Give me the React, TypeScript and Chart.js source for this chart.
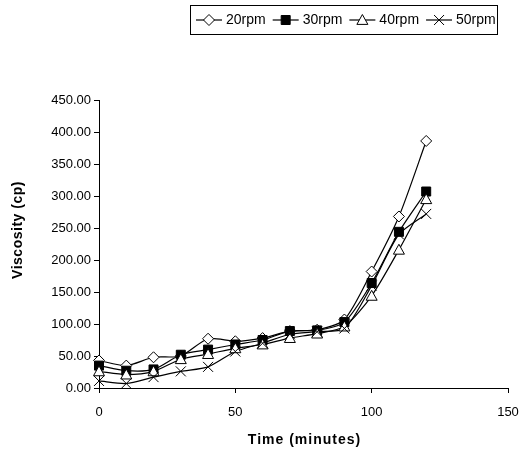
import React, { useEffect, useRef } from "react";
import { Chart, registerables } from "chart.js";
Chart.register(...registerables);

const times = [0, 10, 20, 30, 40, 50, 60, 70, 80, 90, 100, 110, 120];
const rpm20 = [43, 35, 48, 50, 77, 73, 78, 89, 91, 107, 182, 268, 386];
const rpm30 = [35, 27, 29, 52, 60, 68, 75, 89, 90, 103, 164, 244, 307];
const rpm40 = [26, 21, 26, 45, 53, 62, 68, 78, 85, 96, 144, 216, 295];
const rpm50 = [11, 7, 17, 26, 33, 57, 70, 84, 88, 93, 160, 240, 272];
const seriesLabels = ["20rpm", "30rpm", "40rpm", "50rpm"];
const xAxisTitle = "Time (minutes)";
const yAxisTitle = "Viscosity (cp)";

const FONT = "'Liberation Sans', Arial, sans-serif";

type Marker = "diamond" | "square" | "triangle" | "cross";
const markers: Marker[] = ["diamond", "square", "triangle", "cross"];

function drawMarker(ctx: CanvasRenderingContext2D, m: Marker, x: number, y: number) {
  ctx.save();
  ctx.lineWidth = 1;
  ctx.strokeStyle = "#000";
  ctx.beginPath();
  if (m === "diamond") {
    const r = 5.5;
    ctx.moveTo(x, y - r);
    ctx.lineTo(x + r, y);
    ctx.lineTo(x, y + r);
    ctx.lineTo(x - r, y);
    ctx.closePath();
    ctx.fillStyle = "#fff";
    ctx.fill();
    ctx.stroke();
  } else if (m === "square") {
    const r = 4.5;
    ctx.rect(x - r, y - r, 2 * r, 2 * r);
    ctx.fillStyle = "#000";
    ctx.fill();
    ctx.stroke();
  } else if (m === "triangle") {
    const r = 5.5;
    ctx.moveTo(x, y - r);
    ctx.lineTo(x + r, y + r * 0.8);
    ctx.lineTo(x - r, y + r * 0.8);
    ctx.closePath();
    ctx.fillStyle = "#fff";
    ctx.fill();
    ctx.stroke();
  } else {
    const r = 5;
    ctx.moveTo(x - r, y - r);
    ctx.lineTo(x + r, y + r);
    ctx.moveTo(x + r, y - r);
    ctx.lineTo(x - r, y + r);
    ctx.stroke();
  }
  ctx.restore();
}

const legendBox = { x: 190, y: 5, w: 307, h: 29 };

const customLegend = {
  id: "customLegend",
  afterDraw(chart: any) {
    const ctx: CanvasRenderingContext2D = chart.ctx;
    ctx.save();
    ctx.strokeStyle = "#000";
    ctx.lineWidth = 1;
    ctx.strokeRect(legendBox.x + 0.5, legendBox.y + 0.5, legendBox.w, legendBox.h);
    ctx.font = "14px " + FONT;
    ctx.textBaseline = "middle";
    ctx.fillStyle = "#000";
    let x = legendBox.x + 6;
    const cy = legendBox.y + legendBox.h / 2 + 0.5;
    chart.data.datasets.forEach((ds: any, i: number) => {
      ctx.beginPath();
      ctx.lineWidth = 1.2;
      ctx.moveTo(x, cy);
      ctx.lineTo(x + 26, cy);
      ctx.stroke();
      drawMarker(ctx, markers[i], x + 13, cy);
      x += 30;
      ctx.fillText(ds.label, x, cy);
      x += ctx.measureText(ds.label).width + 7;
    });
    ctx.restore();
  },
};

const axisTitles = {
  id: "axisTitles",
  afterDraw(chart: any) {
    const ctx: any = chart.ctx;
    const area = chart.chartArea;
    ctx.save();
    ctx.fillStyle = "#000";
    ctx.textAlign = "center";
    ctx.textBaseline = "middle";
    ctx.font = "bold 14px " + FONT;
    ctx.letterSpacing = "1px";
    ctx.fillText(xAxisTitle, (area.left + area.right) / 2 + 1, 440);
    ctx.letterSpacing = "0.5px";
    ctx.translate(18, 230);
    ctx.rotate(-Math.PI / 2);
    ctx.fillText(yAxisTitle, 0, 0);
    ctx.restore();
  },
};

const markerPlugin = {
  id: "markerPlugin",
  afterDatasetsDraw(chart: any) {
    const ctx: CanvasRenderingContext2D = chart.ctx;
    chart.data.datasets.forEach((ds: any, i: number) => {
      const meta = chart.getDatasetMeta(i);
      meta.data.forEach((pt: any) => drawMarker(ctx, markers[i], pt.x, pt.y));
    });
  },
};

export default function App() {
  const ref = useRef<HTMLCanvasElement>(null);
  useEffect(() => {
    const series = [rpm20, rpm30, rpm40, rpm50];
    const chart = new Chart(ref.current!, {
      type: "line",
      data: {
        datasets: series.map((s, i) => ({
          label: seriesLabels[i],
          data: times.map((t, j) => ({ x: t, y: s[j] })),
          borderColor: "#000",
          borderWidth: 1.2,
          pointRadius: 0,
          tension: 0.25,
          fill: false,
        })),
      },
      options: {
        responsive: false,
        animation: false,
        devicePixelRatio: 1,
        layout: { padding: { top: 100, right: 15, left: 0, bottom: 0 } },
        plugins: { legend: { display: false }, tooltip: { enabled: false } },
        scales: {
          x: {
            type: "linear",
            min: 0,
            max: 150,
            ticks: { stepSize: 50, color: "#000", font: { family: FONT, size: 13 }, padding: 12, maxRotation: 0 },
            grid: { drawOnChartArea: false, drawTicks: true, tickLength: 5, color: "#000" },
            border: { display: true, color: "#000", width: 1 },
            afterFit: (s: any) => { s.height = 66; s.paddingRight = 0; s.paddingLeft = 0; },
          },
          y: {
            min: 0,
            max: 450,
            ticks: { stepSize: 50, color: "#000", font: { family: FONT, size: 13 }, padding: 3, callback: (v: any) => Number(v).toFixed(2) },
            grid: { drawOnChartArea: false, drawTicks: true, tickLength: 5, color: "#000" },
            border: { display: true, color: "#000", width: 1 },
            afterFit: (s: any) => { s.width = 99; },
          },
        },
      },
      plugins: [markerPlugin, customLegend, axisTitles],
    } as any);
    return () => chart.destroy();
  }, []);
  return (
    <div style={{ position: "fixed", left: 0, top: 0, width: 523, height: 454, background: "#fff" }}>
      <canvas ref={ref} width={523} height={454} />
    </div>
  );
}
